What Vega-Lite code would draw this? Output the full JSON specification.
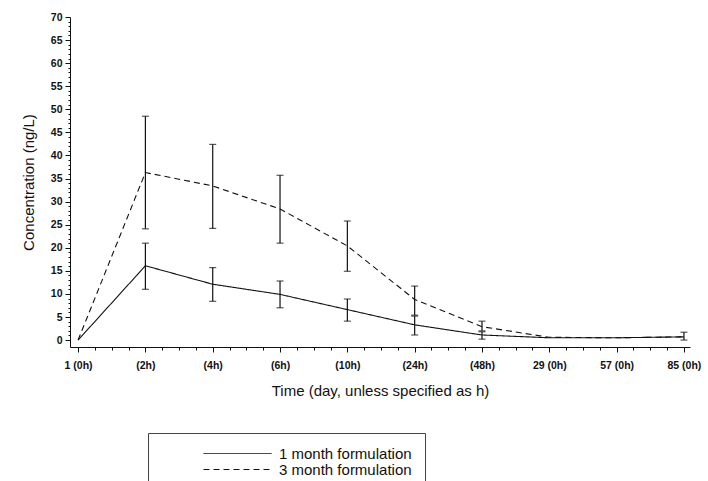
{
  "$schema": "https://vega.github.io/schema/vega-lite/v6.json",
  "autosize": {"type": "none"},
  "padding": {"left": 70, "top": 17, "right": 18, "bottom": 134},
  "width": 620,
  "height": 330,
  "background": "white",
  "config": {
    "view": {"stroke": null},
    "font": "Liberation Sans",
    "axis": {"grid": false, "domainColor": "#111", "tickColor": "#111", "labelColor": "#111", "titleColor": "#111"}
  },
  "data": {
    "values": [
      {"idx": 0, "series": "1 month formulation", "mean": 0, "lo": null, "hi": null},
      {"idx": 1, "series": "1 month formulation", "mean": 16.1, "lo": 11.0, "hi": 21.0},
      {"idx": 2, "series": "1 month formulation", "mean": 12.1, "lo": 8.4, "hi": 15.7},
      {"idx": 3, "series": "1 month formulation", "mean": 9.9, "lo": 7.0, "hi": 12.8},
      {"idx": 4, "series": "1 month formulation", "mean": 6.6, "lo": 4.1, "hi": 8.9},
      {"idx": 5, "series": "1 month formulation", "mean": 3.3, "lo": 1.1, "hi": 5.2},
      {"idx": 6, "series": "1 month formulation", "mean": 1.1, "lo": 0.2, "hi": 1.8},
      {"idx": 7, "series": "1 month formulation", "mean": 0.5, "lo": null, "hi": null},
      {"idx": 8, "series": "1 month formulation", "mean": 0.5, "lo": null, "hi": null},
      {"idx": 9, "series": "1 month formulation", "mean": 0.7, "lo": 0.0, "hi": 1.7},
      {"idx": 0, "series": "3 month formulation", "mean": 0, "lo": null, "hi": null},
      {"idx": 1, "series": "3 month formulation", "mean": 36.3, "lo": 24.1, "hi": 48.5},
      {"idx": 2, "series": "3 month formulation", "mean": 33.4, "lo": 24.2, "hi": 42.4},
      {"idx": 3, "series": "3 month formulation", "mean": 28.4, "lo": 21.0, "hi": 35.7},
      {"idx": 4, "series": "3 month formulation", "mean": 20.4, "lo": 14.9, "hi": 25.8},
      {"idx": 5, "series": "3 month formulation", "mean": 8.8, "lo": 5.4, "hi": 11.7},
      {"idx": 6, "series": "3 month formulation", "mean": 2.9, "lo": 2.0, "hi": 4.1},
      {"idx": 7, "series": "3 month formulation", "mean": 0.6, "lo": null, "hi": null},
      {"idx": 8, "series": "3 month formulation", "mean": 0.5, "lo": null, "hi": null},
      {"idx": 9, "series": "3 month formulation", "mean": 0.7, "lo": null, "hi": null}
    ]
  },
  "resolve": {"axis": {"x": "independent", "y": "independent"}},
  "layer": [
    {
      "mark": {"type": "line", "color": "#111", "strokeWidth": 1.1},
      "encoding": {
        "x": {
          "field": "idx", "type": "quantitative",
          "scale": {"domain": [-0.12, 9.09], "nice": false, "zero": false},
          "axis": {
            "orient": "bottom",
            "values": [0, 1, 2, 3, 4, 5, 6, 7, 8, 9],
            "labelExpr": "['1 (0h)','(2h)','(4h)','(6h)','(10h)','(24h)','(48h)','29 (0h)','57 (0h)','85 (0h)'][datum.value]",
            "title": "Time (day, unless specified as h)",
            "titleFontSize": 15, "titleFontWeight": "normal", "titlePadding": 13,
            "labelFontSize": 10.5, "labelFontWeight": "bold", "labelPadding": 8,
            "tickSize": 5, "labelFlush": false, "labelOverlap": false
          }
        },
        "y": {
          "field": "mean", "type": "quantitative",
          "scale": {"domain": [-1.5, 70], "nice": false, "zero": false},
          "axis": {
            "orient": "left",
            "values": [0, 5, 10, 15, 20, 25, 30, 35, 40, 45, 50, 55, 60, 65, 70],
            "title": "Concentration (ng/L)",
            "titleFontSize": 15, "titleFontWeight": "normal", "titlePadding": 14,
            "labelFontSize": 10.5, "labelFontWeight": "bold", "labelPadding": 3,
            "tickSize": 5
          }
        },
        "strokeDash": {
          "field": "series", "type": "nominal",
          "scale": {"domain": ["1 month formulation", "3 month formulation"], "range": [[1, 0], [6, 4]]},
          "legend": {
            "title": null,
            "orient": "none",
            "legendX": 78,
            "legendY": 416,
            "strokeColor": "#444",
            "fillColor": "white",
            "padding": 13,
            "symbolType": "stroke",
            "symbolSize": 4624,
            "symbolStrokeWidth": 1,
            "symbolStrokeColor": "#111",
            "symbolOffset": 42,
            "labelOffset": 7,
            "labelFontSize": 15,
            "labelColor": "#111",
            "clipHeight": 15,
            "rowPadding": 0
          }
        }
      }
    },
    {
      "transform": [{"filter": "datum.lo != null"}],
      "mark": {"type": "rule", "color": "#111", "strokeWidth": 1.2},
      "encoding": {
        "x": {
          "field": "idx", "type": "quantitative",
          "axis": {
            "orient": "bottom",
            "values": [0.25, 0.5, 0.75, 1.25, 1.5, 1.75, 2.25, 2.5, 2.75, 3.25, 3.5, 3.75, 4.25, 4.5, 4.75, 5.25, 5.5, 5.75, 6.25, 6.5, 6.75, 7.25, 7.5, 7.75, 8.25, 8.5, 8.75],
            "labels": false, "title": null, "domain": false, "tickSize": 3
          }
        },
        "y": {
          "field": "lo", "type": "quantitative",
          "axis": {
            "orient": "left",
            "values": [1, 2, 3, 4, 6, 7, 8, 9, 11, 12, 13, 14, 16, 17, 18, 19, 21, 22, 23, 24, 26, 27, 28, 29, 31, 32, 33, 34, 36, 37, 38, 39, 41, 42, 43, 44, 46, 47, 48, 49, 51, 52, 53, 54, 56, 57, 58, 59, 61, 62, 63, 64, 66, 67, 68, 69],
            "labels": false, "title": null, "domain": false, "tickSize": 2
          }
        },
        "y2": {"field": "hi"}
      }
    },
    {
      "transform": [{"filter": "datum.lo != null"}],
      "mark": {"type": "tick", "orient": "horizontal", "color": "#111", "size": 7, "thickness": 1.2},
      "encoding": {
        "x": {"field": "idx", "type": "quantitative", "axis": null},
        "y": {"field": "lo", "type": "quantitative", "axis": null}
      }
    },
    {
      "transform": [{"filter": "datum.lo != null"}],
      "mark": {"type": "tick", "orient": "horizontal", "color": "#111", "size": 7, "thickness": 1.2},
      "encoding": {
        "x": {"field": "idx", "type": "quantitative", "axis": null},
        "y": {"field": "hi", "type": "quantitative", "axis": null}
      }
    }
  ]
}
